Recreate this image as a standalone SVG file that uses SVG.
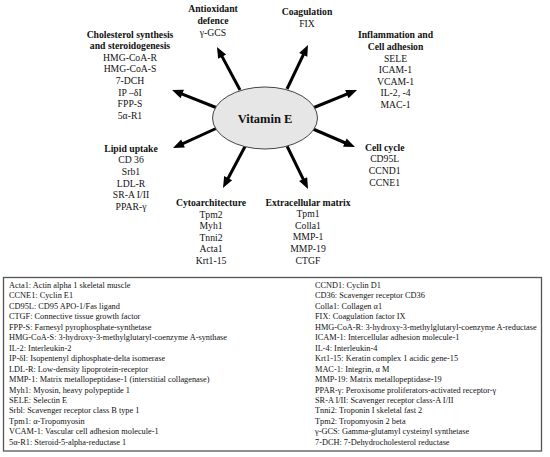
<svg xmlns="http://www.w3.org/2000/svg" width="550" height="457" viewBox="0 0 550 457">
<style>
text{font-family:"Liberation Serif","Times New Roman",serif;fill:#111}
.d{font-size:9.7px;text-anchor:middle}
.b{font-weight:bold}
.lg{font-size:8.3px}
.arr{stroke:#000;stroke-width:3;fill:none;marker-end:url(#ah)}
</style>
<defs>
<marker id="ah" markerUnits="userSpaceOnUse" markerWidth="11" markerHeight="9" refX="2" refY="4.5" orient="auto" overflow="visible">
<path d="M0,0 L11,4.5 L0,9 z" fill="#000"/>
</marker>
</defs>
<g id="connectors">
<line class="arr" x1="240" y1="90" x2="221.2" y2="54.9"/>
<line class="arr" x1="287" y1="89" x2="304.1" y2="53.1"/>
<line class="arr" x1="314" y1="107.5" x2="348.7" y2="93.4"/>
<line class="arr" x1="216" y1="107.5" x2="180.4" y2="93.3"/>
<line class="arr" x1="216" y1="128.5" x2="181.2" y2="144.3"/>
<line class="arr" x1="313" y1="129" x2="346.7" y2="143.5"/>
<line class="arr" x1="245" y1="146.5" x2="227.2" y2="180"/>
<line class="arr" x1="287" y1="146" x2="304.05" y2="180.9"/>
</g>
<g id="vitaminE">
<ellipse cx="265" cy="118" rx="52.5" ry="31" fill="#e6e6e6" stroke="#444" stroke-width="1"/>
<text x="265" y="122.5" text-anchor="middle" font-size="12.5" font-weight="bold">Vitamin E</text>
</g>
<g id="antioxidant" class="d">
<text x="213" y="12.3" class="b">Antioxidant</text>
<text x="213" y="24" class="b">defence</text>
<text x="213" y="35.5">γ-GCS</text>
</g>
<g id="coagulation" class="d">
<text x="307" y="15" class="b">Coagulation</text>
<text x="307" y="26.5">FIX</text>
</g>
<g id="cholesterol" class="d">
<text x="130" y="37.5" class="b">Cholesterol synthesis</text>
<text x="130" y="49.1" class="b">and steroidogenesis</text>
<text x="130" y="60.7">HMG-CoA-R</text>
<text x="130" y="72.3">HMG-CoA-S</text>
<text x="130" y="83.9">7-DCH</text>
<text x="130" y="95.5">IP –δI</text>
<text x="130" y="107.1">FPP-S</text>
<text x="130" y="118.7">5α-R1</text>
</g>
<g id="inflammation" class="d">
<text x="395.5" y="38.3" class="b">Inflammation and</text>
<text x="395.5" y="49.9" class="b">Cell adhesion</text>
<text x="395.5" y="61.5">SELE</text>
<text x="395.5" y="73.1">ICAM-1</text>
<text x="395.5" y="84.7">VCAM-1</text>
<text x="395.5" y="96.3">IL-2, -4</text>
<text x="395.5" y="107.9">MAC-1</text>
</g>
<g id="lipid" class="d">
<text x="131" y="151.7" class="b">Lipid uptake</text>
<text x="131" y="163.3">CD 36</text>
<text x="131" y="174.9">Srb1</text>
<text x="131" y="186.5">LDL-R</text>
<text x="131" y="198.1">SR-A I/II</text>
<text x="131" y="209.7">PPAR-γ</text>
</g>
<g id="cellcycle" class="d">
<text x="384.7" y="150.7" class="b">Cell cycle</text>
<text x="384.7" y="162.3">CD95L</text>
<text x="384.7" y="173.9">CCND1</text>
<text x="384.7" y="185.5">CCNE1</text>
</g>
<g id="cytoarchitecture" class="d">
<text x="211" y="206" class="b">Cytoarchitecture</text>
<text x="211" y="217.6">Tpm2</text>
<text x="211" y="229.2">Myh1</text>
<text x="211" y="240.8">Tnni2</text>
<text x="211" y="252.4">Acta1</text>
<text x="211" y="264">Krt1-15</text>
</g>
<g id="ecm" class="d">
<text x="308" y="205.5" class="b">Extracellular matrix</text>
<text x="308" y="217.1">Tpm1</text>
<text x="308" y="228.7">Colla1</text>
<text x="308" y="240.3">MMP-1</text>
<text x="308" y="251.9">MMP-19</text>
<text x="308" y="263.5">CTGF</text>
</g>
<g id="legend">
<rect x="3.5" y="277.5" width="538" height="173.5" fill="#fff" stroke="#555" stroke-width="1.3"/>
<g class="lg">
<text x="9" y="288">Acta1: Actin alpha 1 skeletal muscle</text>
<text x="9" y="298.45">CCNE1: Cyclin E1</text>
<text x="9" y="308.9">CD95L: CD95 APO-1/Fas ligand</text>
<text x="9" y="319.35">CTGF: Connective tissue growth factor</text>
<text x="9" y="329.8">FPP-S: Farnesyl pyrophosphate-synthetase</text>
<text x="9" y="340.25">HMG-CoA-S: 3-hydroxy-3-methylglutaryl-coenzyme A-synthase</text>
<text x="9" y="350.7">IL-2: Interleukin-2</text>
<text x="9" y="361.15">IP-δI: Isopentenyl diphosphate-delta isomerase</text>
<text x="9" y="371.6">LDL-R: Low-density lipoprotein-receptor</text>
<text x="9" y="382.05">MMP-1: Matrix metallopeptidase-1 (interstitial collagenase)</text>
<text x="9" y="392.5">Myh1: Myosin, heavy polypeptide 1</text>
<text x="9" y="402.95">SELE: Selectin E</text>
<text x="9" y="413.4">Srbl: Scavenger receptor class B type 1</text>
<text x="9" y="423.85">Tpm1: α-Tropomyosin</text>
<text x="9" y="434.3">VCAM-1: Vascular cell adhesion molecule-1</text>
<text x="9" y="444.75">5α-R1: Steroid-5-alpha-reductase 1</text>
<text x="315" y="288">CCND1: Cyclin D1</text>
<text x="315" y="298.45">CD36: Scavenger receptor CD36</text>
<text x="315" y="308.9">Colla1: Collagen α1</text>
<text x="315" y="319.35">FIX: Coagulation factor IX</text>
<text x="315" y="329.8">HMG-CoA-R: 3-hydroxy-3-methylglutaryl-coenzyme A-reductase</text>
<text x="315" y="340.25">ICAM-1: Intercellular adhesion molecule-1</text>
<text x="315" y="350.7">IL-4: Interleukin-4</text>
<text x="315" y="361.15">Krt1-15: Keratin complex 1 acidic gene-15</text>
<text x="315" y="371.6">MAC-1: Integrin, α M</text>
<text x="315" y="382.05">MMP-19: Matrix metallopeptidase-19</text>
<text x="315" y="392.5">PPAR-γ: Peroxisome proliferators-activated receptor-γ</text>
<text x="315" y="402.95">SR-A I/II: Scavenger receptor class-A I/II</text>
<text x="315" y="413.4">Tnni2: Troponin I skeletal fast 2</text>
<text x="315" y="423.85">Tpm2: Tropomyosin 2 beta</text>
<text x="315" y="434.3">γ-GCS: Gamma-glutamyl cysteinyl synthetase</text>
<text x="315" y="444.75">7-DCH: 7-Dehydrocholesterol reductase</text>
</g>
</g>
</svg>
